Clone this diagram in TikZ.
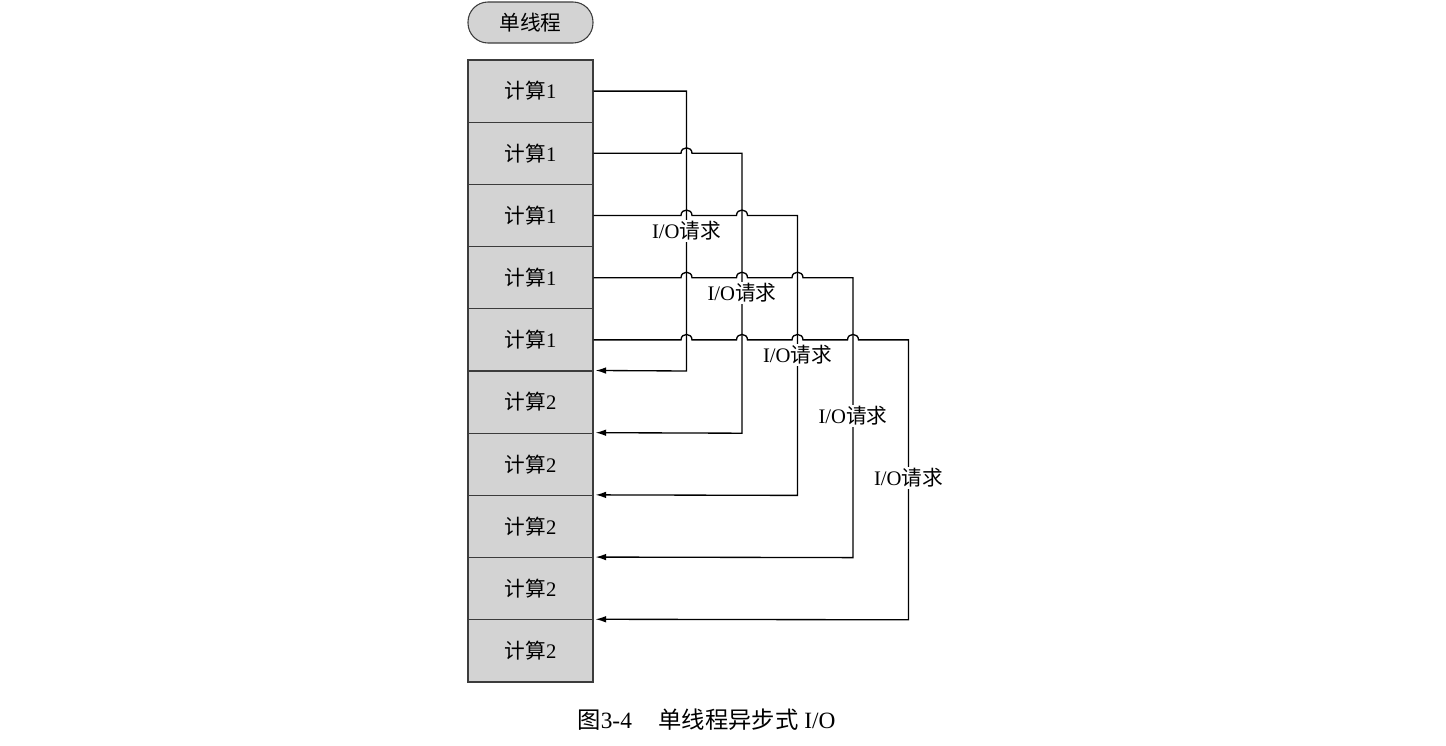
\documentclass[tikz,border=0pt]{standalone}
\usepackage{fontspec}
\setmainfont{Liberation Serif}
\newfontfamily\cjk{Noto Sans CJK SC}
\usetikzlibrary{arrows.meta}
\definecolor{boxgray}{RGB}{211,211,211}
\definecolor{boxline}{RGB}{60,60,60}
\begin{document}
\begin{tikzpicture}[x=0.75pt,y=-0.75pt,
  cell/.style={draw=boxline, fill=boxgray, line width=0.8pt, minimum width=93.75pt,
    minimum height=46.65pt, inner sep=0pt, font=\fontsize{15.5}{18}\selectfont},
  pill/.style={draw=boxline, fill=boxgray, line width=0.8pt, minimum width=93.75pt,
    minimum height=30.75pt, rounded corners=15pt, inner sep=0pt, font=\fontsize{15.5}{18}\selectfont},
  lbl/.style={fill=white, inner sep=1pt, font=\fontsize{15.5}{18}\selectfont},
  wire/.style={line width=1pt, black},
  arr/.style={wire, -{Latex[length=8pt,width=5pt]}, shorten >=1.5pt},
  captext/.style={font=\fontsize{17.5}{20}\selectfont}
]
\useasboundingbox (0,0) rectangle (1446,746);
\node[pill] (top) at (530.5,22.5) {{\cjk 单线程}};
\foreach \k/\t in {0/1,1/1,2/1,3/1,4/1,5/2,6/2,7/2,8/2,9/2}
  \node[cell] (r\k) at (530.5,{91.1+62.2*\k}) {{\cjk 计算}\t};
% request lines
\draw[arr] (r0.east) -- (686.5,91.1) -- (686.5,371) -- (r5.north east);
\draw[arr] (r1.east) -- (681,153.3) .. controls (681,146) and (692,146) .. (692,153.3)
  -- (742,153.3) -- (742,433.2) -- (r6.north east);
\draw[arr] (r2.east) -- (681,215.5) .. controls (681,208.2) and (692,208.2) .. (692,215.5)
  -- (736.5,215.5) .. controls (736.5,208.2) and (747.5,208.2) .. (747.5,215.5)
  -- (797.5,215.5) -- (797.5,495.4) -- (r7.north east);
\draw[arr] (r3.east) -- (681,277.7) .. controls (681,270.4) and (692,270.4) .. (692,277.7)
  -- (736.5,277.7) .. controls (736.5,270.4) and (747.5,270.4) .. (747.5,277.7)
  -- (792,277.7) .. controls (792,270.4) and (803,270.4) .. (803,277.7)
  -- (853,277.7) -- (853,557.6) -- (r8.north east);
\draw[arr] (r4.east) -- (681,339.9) .. controls (681,332.6) and (692,332.6) .. (692,339.9)
  -- (736.5,339.9) .. controls (736.5,332.6) and (747.5,332.6) .. (747.5,339.9)
  -- (792,339.9) .. controls (792,332.6) and (803,332.6) .. (803,339.9)
  -- (847.5,339.9) .. controls (847.5,332.6) and (858.5,332.6) .. (858.5,339.9)
  -- (908.5,339.9) -- (908.5,619.8) -- (r9.north east);
% labels
\node[lbl] (l0) at (686.5,231) {I/O{\cjk 请求}};
\node[lbl] (l1) at (742,293) {I/O{\cjk 请求}};
\node[lbl] (l2) at (797.5,355) {I/O{\cjk 请求}};
\node[lbl] (l3) at (853,416) {I/O{\cjk 请求}};
\node[lbl] (l4) at (908.5,478) {I/O{\cjk 请求}};
% caption
\node[captext] (caption) at (706.5,720) {{\cjk 图}3-4\hspace{20pt}{\cjk 单线程异步式} I/O};
\end{tikzpicture}
\end{document}
